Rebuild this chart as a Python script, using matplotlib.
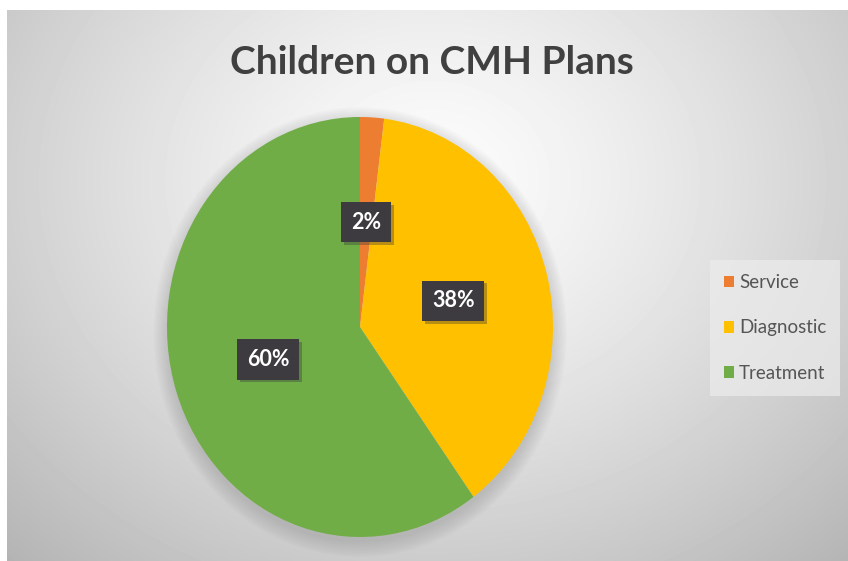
import numpy as np
import matplotlib
matplotlib.use("Agg")
import matplotlib.pyplot as plt
import matplotlib.patheffects as pe
from matplotlib.patches import Ellipse

# ── Данные ────────────────────────────────────────────────────────────────
CATEGORIES = ["Service", "Diagnostic", "Treatment"]
VALUES     = [2, 38, 60]
COLORS     = ["#ED7D31", "#FFC000", "#70AD47"]
TITLE      = "Children on CMH Plans"

W, H, DPI = 848, 561, 100
plt.rcParams["font.family"] = ["Lato", "DejaVu Sans"]

fig = plt.figure(figsize=(W / DPI, H / DPI), dpi=DPI, facecolor="white")

# ── Фон: радиальный градиент ─────────────────────────────────────────────
bg = fig.add_axes([7 / W, 0, 1 - 7 / W, (H - 10) / H])
yy, xx = np.mgrid[0:551, 0:841]
cx, cy = 425, 170
r = np.sqrt(((xx - cx) / 560) ** 2 + ((yy - cy) / 470) ** 2)
shade = 0.99 - 0.25 * np.clip(r, 0, 1.2) ** 1.3
bg.imshow(shade, cmap="gray", vmin=0, vmax=1, aspect="auto",
          interpolation="bilinear")
bg.set_axis_off()

# ── Пирог (эллипс за счёт aspect='auto') ─────────────────────────────────
cxp, cyp, rx, ry = 360, 327, 193, 210
ax = fig.add_axes([(cxp - rx * 1.25) / W, (H - cyp - ry * 1.25) / H,
                   2.5 * rx / W, 2.5 * ry / H])

# мягкая тень под пирогом
for i in range(8):
    s = 1.0 + 0.01 * i
    ax.add_patch(Ellipse((0.0, -0.025), 2 * s, 2 * s, color="#666666",
                         alpha=0.03, lw=0, zorder=0))

wedges, texts, autotexts = ax.pie(
    VALUES, colors=COLORS, startangle=90, counterclock=False,
    autopct="%1.0f%%", pctdistance=0.5, radius=1.0,
    wedgeprops=dict(linewidth=0, zorder=2),
    textprops=dict(color="white", fontsize=15.5, fontweight="bold"),
)
ax.set_aspect("auto")
ax.set_xlim(-1.25, 1.25)
ax.set_ylim(-1.25, 1.25)

for t in autotexts:
    t.set_bbox(dict(boxstyle="square,pad=0.45", facecolor="#3d3b40",
                    edgecolor="none"))
    t.get_bbox_patch().set_path_effects([
        pe.SimplePatchShadow(offset=(2, -2), shadow_rgbFace="#333333", alpha=0.35),
        pe.Normal(),
    ])
    t.set_zorder(5)

# ── Заголовок ─────────────────────────────────────────────────────────────
fig.text(432 / W, 1 - 62 / H, TITLE, ha="center", va="center",
         fontsize=28, fontweight="bold", color="#404040")

# ── Легенда ───────────────────────────────────────────────────────────────
leg = fig.legend(wedges, CATEGORIES, loc="center left",
                 bbox_to_anchor=(710 / W, 1 - 328 / H),
                 frameon=True, fontsize=13.5, handlelength=0.55, handleheight=0.55,
                 handletextpad=0.25, labelspacing=1.5, borderpad=0.75,
                 borderaxespad=0, fancybox=False, labelcolor="#555555")
leg.get_frame().set_facecolor("#ececec")
leg.get_frame().set_edgecolor("none")
leg.get_frame().set_alpha(0.7)

fig.savefig("out.png", dpi=DPI, facecolor="white")
